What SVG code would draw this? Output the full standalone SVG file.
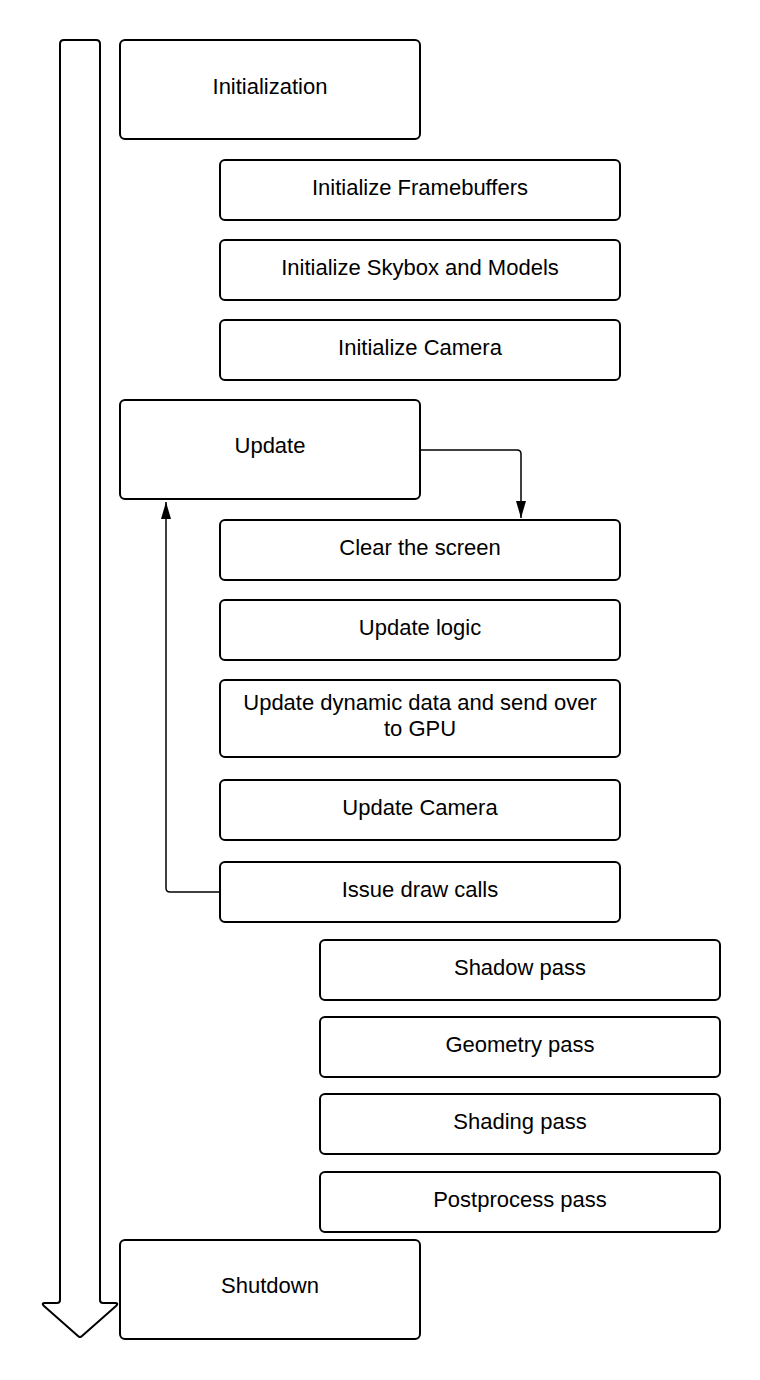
<svg xmlns="http://www.w3.org/2000/svg" width="760" height="1380" viewBox="0 0 760 1380">
<style>
.box{fill:#fff;stroke:#000;stroke-width:2;}
.lbl{font-family:"Liberation Sans",Arial,sans-serif;font-size:22px;fill:#000;text-anchor:middle;}
.conn{fill:none;stroke:#000;stroke-width:1.5;}
</style>
<defs>
<marker id="arr" markerUnits="userSpaceOnUse" markerWidth="18" markerHeight="12" refX="17" refY="5.5" orient="auto" viewBox="0 0 18 12">
<path d="M0,0.5 L17,5.5 L0,10.5 Z" fill="#000"/>
</marker>
</defs>
<g id="timeline">
<path d="M60,44 Q60,40 64,40 L96,40 Q100,40 100,44 L100,1300 Q100,1303 103,1303 L115,1303 Q119,1303 116,1306 L82,1336 Q80,1338 78,1336 L44,1306 Q41,1303 45,1303 L57,1303 Q60,1303 60,1300 Z" fill="#fff" stroke="#000" stroke-width="2" stroke-linejoin="round"/>
</g>
<g id="initialization"><rect class="box" x="120" y="40" width="300" height="99" rx="5"/><text class="lbl" x="270" y="94">Initialization</text></g>
<g id="init-framebuffers"><rect class="box" x="220" y="160" width="400" height="60" rx="5"/><text class="lbl" x="420" y="195">Initialize Framebuffers</text></g>
<g id="init-skybox"><rect class="box" x="220" y="240" width="400" height="60" rx="5"/><text class="lbl" x="420" y="275">Initialize Skybox and Models</text></g>
<g id="init-camera"><rect class="box" x="220" y="320" width="400" height="60" rx="5"/><text class="lbl" x="420" y="355">Initialize Camera</text></g>
<g id="update"><rect class="box" x="120" y="400" width="300" height="99" rx="5"/><text class="lbl" x="270" y="453">Update</text></g>
<g id="clear-screen"><rect class="box" x="220" y="520" width="400" height="60" rx="5"/><text class="lbl" x="420" y="555">Clear the screen</text></g>
<g id="update-logic"><rect class="box" x="220" y="600" width="400" height="60" rx="5"/><text class="lbl" x="420" y="635">Update logic</text></g>
<g id="update-dynamic"><rect class="box" x="220" y="680" width="400" height="77" rx="5"/><text class="lbl" x="420" y="710">Update dynamic data and send over</text><text class="lbl" x="420" y="736">to GPU</text></g>
<g id="update-camera"><rect class="box" x="220" y="780" width="400" height="60" rx="5"/><text class="lbl" x="420" y="815">Update Camera</text></g>
<g id="issue-draw"><rect class="box" x="220" y="862" width="400" height="60" rx="5"/><text class="lbl" x="420" y="897">Issue draw calls</text></g>
<g id="shadow-pass"><rect class="box" x="320" y="940" width="400" height="60" rx="5"/><text class="lbl" x="520" y="975">Shadow pass</text></g>
<g id="geometry-pass"><rect class="box" x="320" y="1017" width="400" height="60" rx="5"/><text class="lbl" x="520" y="1052">Geometry pass</text></g>
<g id="shading-pass"><rect class="box" x="320" y="1094" width="400" height="60" rx="5"/><text class="lbl" x="520" y="1129">Shading pass</text></g>
<g id="postprocess-pass"><rect class="box" x="320" y="1172" width="400" height="60" rx="5"/><text class="lbl" x="520" y="1207">Postprocess pass</text></g>
<g id="shutdown"><rect class="box" x="120" y="1240" width="300" height="99" rx="5"/><text class="lbl" x="270" y="1293">Shutdown</text></g>
<g id="connectors">
<path class="conn" d="M421,450 L517,450 Q521,450 521,454 L521,518" marker-end="url(#arr)"/>
<path class="conn" d="M219,892 L170,892 Q166,892 166,888 L166,502" marker-end="url(#arr)"/>
</g>
</svg>
